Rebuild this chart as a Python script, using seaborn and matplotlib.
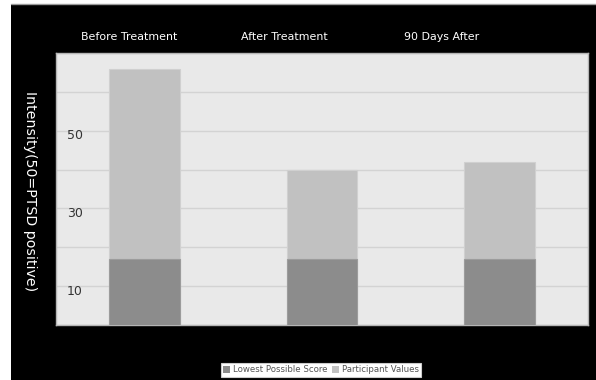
import matplotlib
matplotlib.use("Agg")
import matplotlib.pyplot as plt
import matplotlib.transforms as mtransforms
import seaborn as sns
import pandas as pd
from matplotlib.patches import Patch, Rectangle
from matplotlib.lines import Line2D

# data
phases = ["Before Treatment", "After Treatment", "90 Days After"]
participant = [66, 40, 42]
lowest = [17, 17, 17]
yticks = [0, 10, 20, 30, 40, 50, 60, 70]
ylabels = ["", "10", "", "30", "", "50", "", ""]

header_pos = [0.138, 0.4286, 0.7256]

df = pd.DataFrame({"phase": phases, "participant": participant, "lowest": lowest})

sns.set_theme(style="white")
plt.rcParams["font.family"] = ["DejaVu Sans"]

fig = plt.figure(figsize=(5.96, 3.8), dpi=100, facecolor="white")
# black backdrop with a thin grey top edge, as in the reference
fig.patches.append(Rectangle((11 / 596, 0), 1 - 11 / 596, 1 - 4 / 380,
                             transform=fig.transFigure, facecolor="black",
                             edgecolor="none", zorder=-10))
fig.lines.append(Line2D([11 / 596, 1], [1 - 4 / 380, 1 - 4 / 380],
                        transform=fig.transFigure, color="#9a9a9a", lw=1))

ax = fig.add_axes([56 / 596, 1 - 325 / 380, 532 / 596, 272 / 380])
ax.set_facecolor("#e9e9e9")

sns.barplot(data=df, x="phase", y="participant", color="#c1c1c1", width=0.4,
            edgecolor="#d0d0d0", linewidth=0.8, saturation=1, ax=ax, zorder=3)
sns.barplot(data=df, x="phase", y="lowest", color="#8c8c8c", width=0.4,
            edgecolor="#9c9c9c", linewidth=0.8, saturation=1, ax=ax, zorder=4)

ax.set_ylim(0, 70)
ax.set_xlim(-0.5, 2.5)
ax.set_yticks(yticks)
ax.set_yticklabels(ylabels)
ax.yaxis.grid(True, color="#d3d3d3", linewidth=1)
ax.set_axisbelow(True)
ax.tick_params(axis="y", length=0, direction="in", pad=-8, labelsize=9,
               labelcolor="#333333")
shift = mtransforms.ScaledTranslation(0, 1.5 / 100, fig.dpi_scale_trans)
for lab in ax.get_yticklabels():
    lab.set_horizontalalignment("left")
    lab.set_verticalalignment("top")
    lab.set_transform(lab.get_transform() + shift)
ax.tick_params(axis="x", length=0, labelbottom=False)
ax.set_xlabel("")
ax.set_ylabel("")
for sp in ax.spines.values():
    sp.set_color("#b5b5b5")
    sp.set_linewidth(1)

for name, xp in zip(phases, header_pos):
    ax.text(xp, 1.0 + 16 / 272, name, transform=ax.transAxes, ha="center",
            va="center", color="white", fontsize=7.9)

fig.text(30 / 596, 1 - 191 / 380, "Intensity(50=PTSD positive)", rotation=270,
         ha="center", va="center", color="white", fontsize=10.2)

handles = [Patch(facecolor="#8c8c8c", edgecolor="none", label="Lowest Possible Score"),
           Patch(facecolor="#c1c1c1", edgecolor="none", label="Participant Values")]
leg = fig.legend(handles=handles, loc="center", bbox_to_anchor=(321 / 596, 10 / 380),
                 ncol=2, fontsize=6.2, frameon=True, fancybox=False, framealpha=1,
                 handlelength=0.8, handleheight=0.8, handletextpad=0.3,
                 columnspacing=0.6, borderpad=0.3, labelcolor="#555555")
leg.get_frame().set_facecolor("white")
leg.get_frame().set_edgecolor("#cccccc")
leg.get_frame().set_linewidth(0.8)

fig.savefig("out.png", dpi=100, facecolor=fig.get_facecolor())
